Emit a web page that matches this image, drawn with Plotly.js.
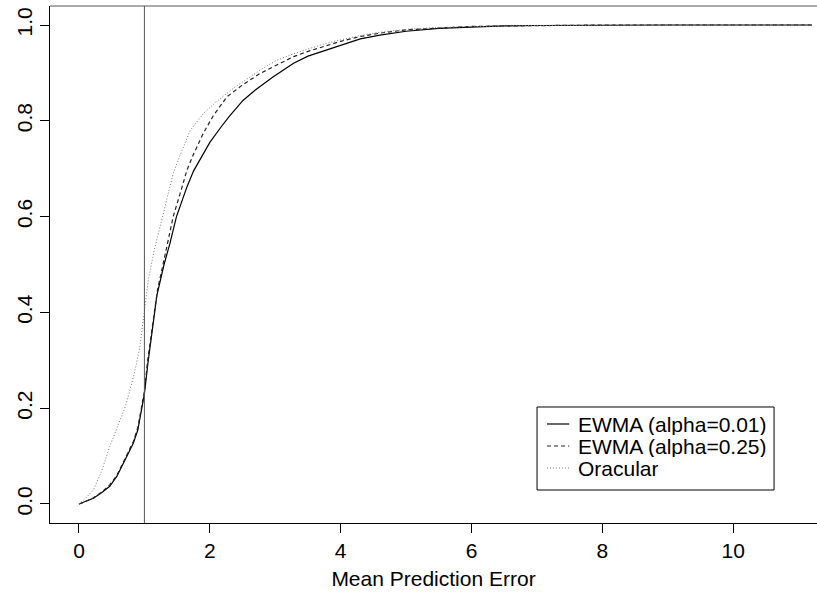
<!DOCTYPE html>
<html>
<head>
<meta charset="utf-8">
<script src="https://cdn.plot.ly/plotly-3.0.1.min.js"></script>
<style>html,body{margin:0;padding:0;background:#fff;}#chart{width:817px;height:592px;}</style>
</head>
<body>
<div id="chart"></div>
<script>
const seriesNames = ["EWMA (alpha=0.01)", "EWMA (alpha=0.25)", "Oracular"];

const ewma01X = [0, 0.1, 0.22, 0.35, 0.47, 0.58, 0.68, 0.76, 0.83, 0.9, 0.95, 1.0, 1.05, 1.1, 1.19, 1.3, 1.39, 1.49, 1.65, 1.75, 1.85, 2.0, 2.16, 2.3, 2.51, 2.7, 2.97, 3.28, 3.5, 3.79, 4.0, 4.3, 4.6, 5.0, 5.5, 6.0, 6.5, 7.0, 8.0, 9.0, 10.0, 11.2];
const ewma01Y = [0, 0.005, 0.012, 0.024, 0.037, 0.058, 0.085, 0.105, 0.127, 0.155, 0.19, 0.23, 0.29, 0.34, 0.435, 0.5, 0.544, 0.6, 0.662, 0.695, 0.718, 0.755, 0.785, 0.81, 0.843, 0.865, 0.892, 0.92, 0.935, 0.948, 0.958, 0.971, 0.979, 0.987, 0.993, 0.996, 0.998, 0.999, 1.0, 1.0, 1.0, 1.0];

const ewma25X = [0, 0.1, 0.22, 0.35, 0.47, 0.58, 0.68, 0.76, 0.83, 0.9, 0.95, 1.0, 1.05, 1.1, 1.2, 1.3, 1.44, 1.55, 1.65, 1.75, 1.9, 2.05, 2.26, 2.5, 2.77, 3.0, 3.28, 3.5, 3.79, 4.0, 4.3, 4.6, 5.0, 5.5, 6.0, 6.5, 7.0, 8.0, 9.0, 10.0, 11.2];
const ewma25Y = [0, 0.005, 0.013, 0.025, 0.04, 0.06, 0.088, 0.11, 0.13, 0.16, 0.195, 0.235, 0.3, 0.35, 0.447, 0.51, 0.6, 0.65, 0.697, 0.73, 0.774, 0.81, 0.85, 0.875, 0.899, 0.915, 0.934, 0.945, 0.958, 0.966, 0.976, 0.983, 0.99, 0.994, 0.997, 0.998, 0.999, 1.0, 1.0, 1.0, 1.0];

const oracularX = [0, 0.1, 0.22, 0.35, 0.47, 0.55, 0.63, 0.7, 0.78, 0.85, 0.93, 0.98, 1.0, 1.06, 1.15, 1.24, 1.34, 1.44, 1.55, 1.7, 1.9, 2.1, 2.36, 2.6, 2.77, 3.0, 3.28, 3.5, 3.79, 4.0, 4.3, 4.6, 5.0, 5.5, 6.0, 6.5, 7.0, 8.0, 9.0, 10.0, 11.2];
const oracularY = [0, 0.012, 0.029, 0.07, 0.12, 0.148, 0.175, 0.2, 0.238, 0.275, 0.328, 0.38, 0.41, 0.468, 0.53, 0.579, 0.64, 0.69, 0.73, 0.78, 0.815, 0.84, 0.868, 0.89, 0.906, 0.925, 0.94, 0.95, 0.962, 0.969, 0.978, 0.985, 0.991, 0.995, 0.997, 0.998, 0.999, 1.0, 1.0, 1.0, 1.0];

const xTicks = [0, 2, 4, 6, 8, 10];
const yTicks = [0, 0.2, 0.4, 0.6, 0.8, 1.0];
const yTickLabels = ["0.0", "0.2", "0.4", "0.6", "0.8", "1.0"];
const refLineX = 1;
const xTitle = "Mean Prediction Error";

const fam = "Liberation Sans, Arial, sans-serif";
const tickFont = {family: fam, size: 21, color: "#000"};
const titleFont = {family: fam, size: 21, color: "#000"};

const lineStyles = [
  {color: "#000", width: 1.2},
  {color: "#222", width: 1.2, dash: "4px,3px"},
  {color: "#777", width: 1, dash: "1px,2px"}
];

const traces = [
  {x: ewma01X, y: ewma01Y, name: seriesNames[0], mode: "lines", line: lineStyles[0]},
  {x: ewma25X, y: ewma25Y, name: seriesNames[1], mode: "lines", line: lineStyles[1]},
  {x: oracularX, y: oracularY, name: seriesNames[2], mode: "lines", line: lineStyles[2]}
];

// custom R-style legend (paper coordinates)
const legX0 = 0.635, legX1 = 0.944, legY0 = 0.0638, legY1 = 0.2244;
const legRowY = [0.1915, 0.1489, 0.1064];
const shapes = [
  {type: "line", xref: "x", yref: "paper", x0: refLineX, x1: refLineX, y0: 0, y1: 1, line: {color: "#555", width: 1}},
  {type: "line", xref: "paper", yref: "paper", x0: 0, x1: 1, y0: 1, y1: 1, line: {color: "#555", width: 1}},
  {type: "rect", xref: "paper", yref: "paper", x0: legX0, x1: legX1, y0: legY0, y1: legY1, fillcolor: "#fff", line: {color: "#000", width: 1}, layer: "above"}
];
const annotations = [];
seriesNames.forEach((n, i) => {
  shapes.push({type: "line", xref: "paper", yref: "paper", x0: 0.648, x1: 0.677, y0: legRowY[i], y1: legRowY[i], line: lineStyles[i], layer: "above"});
  annotations.push({xref: "paper", yref: "paper", x: 0.687, y: legRowY[i], xanchor: "left", yanchor: "middle", text: n, showarrow: false, height: 22, borderpad: 0, font: {family: fam, size: 21, color: "#000"}});
});

const layout = {
  width: 817, height: 592,
  margin: {l: 50, r: 0, t: 6, b: 69},
  paper_bgcolor: "#fff", plot_bgcolor: "#fff",
  font: tickFont,
  showlegend: false,
  xaxis: {
    range: [-0.443, 11.28], tickvals: xTicks, ticktext: xTicks.map(String),
    showgrid: false, zeroline: false, showline: true, linecolor: "#000", linewidth: 1,
    ticks: "outside", ticklen: 9, tickcolor: "#000", tickfont: tickFont,
    title: {text: xTitle, font: titleFont, standoff: 10}
  },
  yaxis: {
    range: [-0.0397, 1.0397], tickvals: yTicks, ticktext: yTickLabels, tickangle: -90,
    showgrid: false, zeroline: false, showline: true, linecolor: "#000", linewidth: 1,
    ticks: "outside", ticklen: 9, tickcolor: "#000", tickfont: tickFont
  },
  shapes: shapes,
  annotations: annotations
};

Plotly.newPlot("chart", traces, layout, {displayModeBar: false, staticPlot: true});
</script>
</body>
</html>
